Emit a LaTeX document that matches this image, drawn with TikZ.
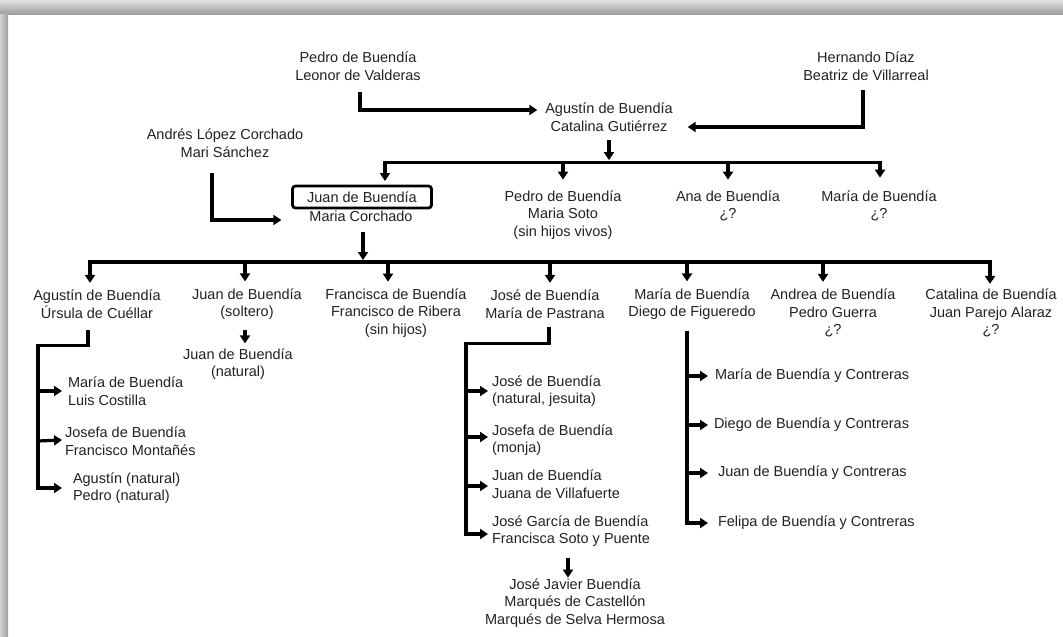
\documentclass[tikz,border=0pt]{standalone}
\usepackage{fontspec}
\setmainfont{Liberation Sans}
\usetikzlibrary{arrows.meta,calc}
\definecolor{ink}{HTML}{222222}
\definecolor{lnk}{HTML}{000000}
\begin{document}
\begin{tikzpicture}[x=1pt,y=-1pt,
  every node/.style={inner sep=0pt, outer sep=0pt, text=ink, font=\fontsize{14.5}{17.5}\selectfont},
  pc/.style={align=center},
  pl/.style={align=left, anchor=west},
  conn/.style={line width=3.2pt, draw=lnk},
  arr/.style={conn, -{Triangle[length=8pt,width=10pt]}},
]
% page and shadow frame
\useasboundingbox (0,0) rectangle (1063,637);
\fill[white] (0,0) rectangle (1063,637);
\shade[top color=black!12, bottom color=black!38] (0,0) rectangle (1063,14);
\shade[left color=black!18, right color=black!38] (0,14) rectangle (8,637);

% generation 1
\node[pc] (pl) at (358,66) {Pedro de Buendía\\Leonor de Valderas};
\node[pc] (hd) at (866,66) {Hernando Díaz\\Beatriz de Villarreal};
\node[pc] (ag) at (609,117) {Agustín de Buendía\\Catalina Gutiérrez};
\node[pc] (al) at (225,143) {Andrés López Corchado\\Mari Sánchez};

\draw[arr] ($(pl.south)+(2,12)$) |- ($(ag.west)+(-8,-7)$);
\draw[arr] ($(hd.south)+(-3,10)$) |- ($(ag.east)+(15,10)$);

% generation 2
\node[draw=lnk, line width=2.8pt, rounded corners=3pt, minimum width=139pt, minimum height=22pt] (jb) at (362,197) {Juan de Buendía};
\node[pc] (mc) at (361,216) {Maria Corchado};
\node[pc] (ps) at (563,215) {Pedro de Buendía\\Maria Soto\\(sin hijos vivos)};
\node[pc] (an) at (728,206) {Ana de Buendía\\¿?};
\node[pc] (ma) at (879,206) {María de Buendía\\¿?};

\coordinate (b1) at ($(ag.south)+(0,31)$);
\draw[arr] ($(ag.south)+(0,9)$) -- ($(b1)+(0,-2)$);
\draw[arr] (b1) -| ($(jb.north)+(23,-5)$);
\draw[arr] (b1) -| ($(ps.north)+(0,-11)$);
\draw[arr] (b1) -| ($(an.north)+(0,-11)$);
\draw[arr] (b1) -| ($(ma.north)+(1,-13)$);

\draw[arr] ($(al.south)+(-13,16)$) |- ($(mc.west)+(-28,4)$);

% generation 3
\node[pc] (au) at (97,304) {Agustín de Buendía\\Úrsula de Cuéllar};
\node[pc] (js) at (247,304) {Juan de Buendía\\(soltero)};
\node[pc] (fr) at (396,313) {Francisca de Buendía\\Francisco de Ribera\\(sin hijos)};
\node[pc] (jo) at (545,304) {José de Buendía\\María de Pastrana};
\node[pc] (md) at (692,304) {María de Buendía\\Diego de Figueredo};
\node[pc] (ad) at (833,313) {Andrea de Buendía\\Pedro Guerra\\¿?};
\node[pc] (cb) at (991,313) {Catalina de Buendía\\Juan Parejo Alaraz\\¿?};

\coordinate (b2) at (363,262);
\draw[arr] ($(mc.south)+(2,11)$) -- ($(b2)+(0,-2)$);
\draw[arr] (b2) -| ($(au.north)+(-7,-7)$);
\draw[arr] (b2) -| ($(js.north)+(-2,-7)$);
\draw[arr] (b2) -| ($(fr.north)+(-8,-7)$);
\draw[arr] (b2) -| ($(jo.north)+(5,-7)$);
\draw[arr] (b2) -| ($(md.north)+(-5,-7)$);
\draw[arr] (b2) -| ($(ad.north)+(-10,-7)$);
\draw[arr] (b2) -| ($(cb.north)+(-1,-5)$);

% Juan (soltero)
\node[pc] (jn) at (238,364) {Juan de Buendía\\(natural)};
\draw[arr] ($(js.south)+(-2,10)$) -- ($(jn.north)+(7,-5)$);

% children of Agustín
\node[pl] (c1) at (68,391) {María de Buendía\\Luis Costilla};
\node[pl] (c2) at (65,441) {Josefa de Buendía\\Francisco Montañés};
\node[pl] (c3) at (73,488) {Agustín (natural)\\Pedro (natural)};
\coordinate (av) at ($(au.south)+(-59,27)$);
\draw[arr] ($(au.south)+(-9,12)$) |- (av) |- ($(c3.west)+(-11,0)$);
\draw[arr] (av |- c1.west) -- ($(c1.west)+(-6,0)$);
\draw[arr] (av |- c2.west) -- ($(c2.west)+(-3,-1)$);

% children of José
\node[pl] (g1) at (492,391) {José de Buendía\\(natural, jesuita)};
\node[pl] (g2) at (492,440) {Josefa de Buendía\\(monja)};
\node[pl] (g3) at (492,484) {Juan de Buendía\\Juana de Villafuerte};
\node[pl] (g4) at (492,531) {José García de Buendía\\Francisca Soto y Puente};
\coordinate (jv) at ($(jo.south)+(-79,25)$);
\draw[arr] ($(jo.south)+(4,9)$) |- (jv) |- ($(g4.west)+(-4,3)$);
\draw[arr] (jv |- g1.west) -- ($(g1.west)+(-4,0)$);
\draw[arr] ($(jv |- g2.west)+(0,-3)$) -- ($(g2.west)+(-4,-3)$);
\draw[arr] ($(jv |- g3.west)+(0,2)$) -- ($(g3.west)+(-4,2)$);

\node[pc] (jj) at (575,603) {José Javier Buendía\\Marqués de Castellón\\Marqués de Selva Hermosa};
\draw[arr] ($(jj.north)+(-7,-21)$) -- ($(jj.north)+(-7,-1)$);

% children of María
\node[pl] (h1) at (715,376) {María de Buendía y Contreras};
\node[pl] (h2) at (714,425) {Diego de Buendía y Contreras};
\node[pl] (h3) at (718,473) {Juan de Buendía y Contreras};
\node[pl] (h4) at (718,523) {Felipa de Buendía y Contreras};
\coordinate (mv) at ($(md.south)+(-5,11)$);
\draw[arr] (mv) |- ($(h4.west)+(-10,0)$);
\draw[arr] (mv |- h1.west) -- ($(h1.west)+(-7,0)$);
\draw[arr] (mv |- h2.west) -- ($(h2.west)+(-6,0)$);
\draw[arr] (mv |- h3.west) -- ($(h3.west)+(-10,0)$);
\end{tikzpicture}
\end{document}
